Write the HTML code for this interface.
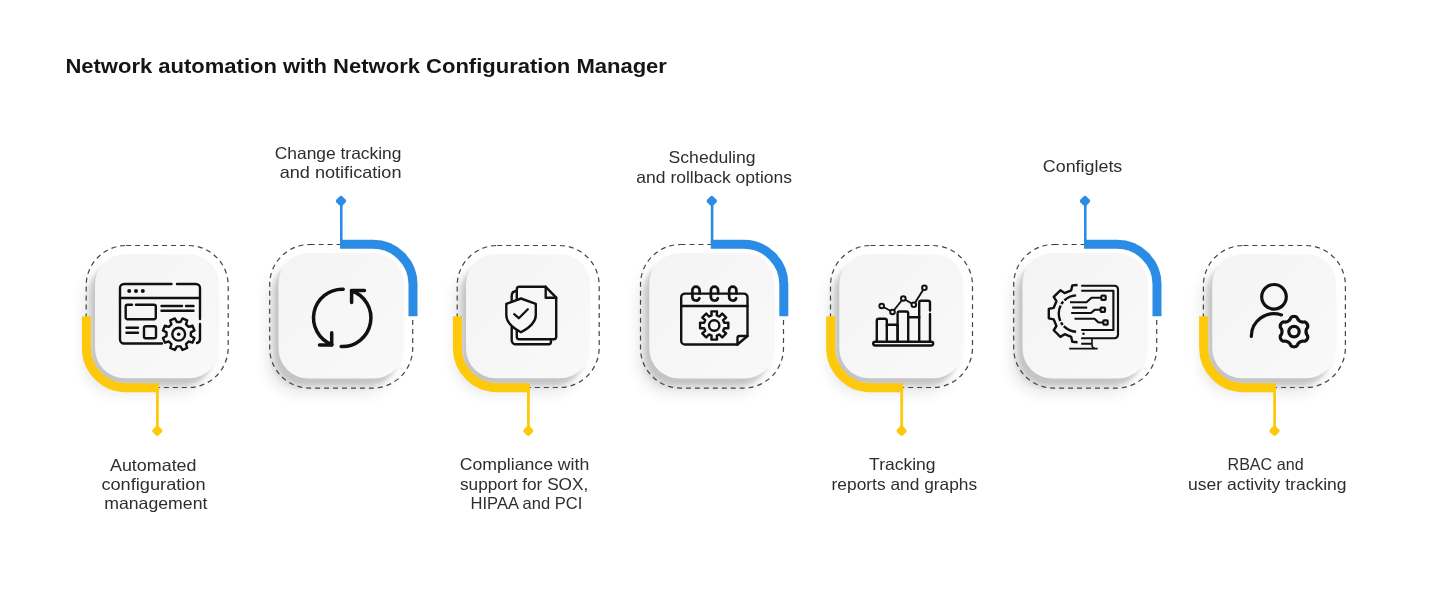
<!DOCTYPE html>
<html><head><meta charset="utf-8"><title>Network automation</title>
<style>
html,body{margin:0;padding:0;background:#fff;}
body{width:1429px;height:600px;overflow:hidden;font-family:"Liberation Sans",sans-serif;}
svg{display:block;}
text{font-family:"Liberation Sans",sans-serif;}
</style></head><body>
<svg width="1429" height="600" viewBox="0 0 1429 600">
<defs>
<filter id="sh1" x="-40%" y="-40%" width="180%" height="180%"><feGaussianBlur stdDeviation="1.4"/></filter>
<filter id="sh3" x="-40%" y="-40%" width="180%" height="180%"><feGaussianBlur stdDeviation="2.2"/></filter>
<filter id="sh2" x="-50%" y="-50%" width="200%" height="200%"><feGaussianBlur stdDeviation="7.5"/></filter>
<linearGradient id="cg" x1="0" y1="0" x2="1" y2="1"><stop offset="0" stop-color="#f4f4f4"/><stop offset="1" stop-color="#f9f9f9"/></linearGradient>
</defs>
<rect width="1429" height="600" fill="#fff"/>

<text x="65.4" y="73" font-size="20" font-weight="700" fill="#151515" style="opacity:0.999" textLength="601.5" lengthAdjust="spacingAndGlyphs">Network automation with Network Configuration Manager</text>
<g transform="translate(86.2,245.5)">
<rect x="-1.1999999999999993" y="22.8" width="124.0" height="124.0" rx="30.0" fill="#000" opacity="0.10" filter="url(#sh2)"/>
<rect x="1.3000000000000007" y="18.3" width="124.0" height="124.0" rx="30.0" fill="#000" opacity="0.07" filter="url(#sh3)"/>
<rect x="5.300000000000001" y="14.3" width="124.0" height="124.0" rx="30.0" fill="#000" opacity="0.065" filter="url(#sh1)"/>
<rect x="8.8" y="8.8" width="124.0" height="124.0" rx="30.0" fill="url(#cg)"/>
<rect x="0" y="0" width="142.0" height="142.0" rx="40.0" fill="none" stroke="#444" stroke-width="1.2" stroke-dasharray="5 3.96"/>
<path d="M0.2,70.8 V102.0 A40.0,40.0 0 0 0 40.0,142.3 H72.6" fill="none" stroke="#FEC90B" stroke-width="9"/>
<rect x="69.8" y="142.0" width="2.8" height="43" fill="#FEC90B"/>
<rect x="-4.2" y="-4.2" width="8.4" height="8.4" rx="2" transform="translate(71.1,185.3) rotate(45)" fill="#FEC90B"/>
</g>
<g transform="translate(269.7,244.5)">
<rect x="-1.1999999999999993" y="22.8" width="125.2" height="125.2" rx="30.0" fill="#000" opacity="0.10" filter="url(#sh2)"/>
<rect x="1.3000000000000007" y="18.3" width="125.2" height="125.2" rx="30.0" fill="#000" opacity="0.07" filter="url(#sh3)"/>
<rect x="5.300000000000001" y="14.3" width="125.2" height="125.2" rx="30.0" fill="#000" opacity="0.065" filter="url(#sh1)"/>
<rect x="8.8" y="8.8" width="125.2" height="125.2" rx="30.0" fill="url(#cg)"/>
<rect x="0" y="0" width="143.0" height="143.6" rx="40.0" fill="none" stroke="#444" stroke-width="1.2" stroke-dasharray="5 3.96"/>
<path d="M70.3,-0.2 H103.0 A40.0,40.0 0 0 1 143.3,40.0 V71.7" fill="none" stroke="#2A8CE4" stroke-width="9"/>
<rect x="70.3" y="-43" width="2.6" height="43" fill="#2A8CE4"/>
<rect x="-4.2" y="-4.2" width="8.4" height="8.4" rx="2" transform="translate(71.3,-43.5) rotate(45)" fill="#2A8CE4"/>
</g>
<g transform="translate(457.2,245.5)">
<rect x="-1.1999999999999993" y="22.8" width="124.0" height="124.0" rx="30.0" fill="#000" opacity="0.10" filter="url(#sh2)"/>
<rect x="1.3000000000000007" y="18.3" width="124.0" height="124.0" rx="30.0" fill="#000" opacity="0.07" filter="url(#sh3)"/>
<rect x="5.300000000000001" y="14.3" width="124.0" height="124.0" rx="30.0" fill="#000" opacity="0.065" filter="url(#sh1)"/>
<rect x="8.8" y="8.8" width="124.0" height="124.0" rx="30.0" fill="url(#cg)"/>
<rect x="0" y="0" width="142.0" height="142.0" rx="40.0" fill="none" stroke="#444" stroke-width="1.2" stroke-dasharray="5 3.96"/>
<path d="M0.2,70.8 V102.0 A40.0,40.0 0 0 0 40.0,142.3 H72.6" fill="none" stroke="#FEC90B" stroke-width="9"/>
<rect x="69.8" y="142.0" width="2.8" height="43" fill="#FEC90B"/>
<rect x="-4.2" y="-4.2" width="8.4" height="8.4" rx="2" transform="translate(71.1,185.3) rotate(45)" fill="#FEC90B"/>
</g>
<g transform="translate(640.5,244.5)">
<rect x="-1.1999999999999993" y="22.8" width="125.2" height="125.2" rx="30.0" fill="#000" opacity="0.10" filter="url(#sh2)"/>
<rect x="1.3000000000000007" y="18.3" width="125.2" height="125.2" rx="30.0" fill="#000" opacity="0.07" filter="url(#sh3)"/>
<rect x="5.300000000000001" y="14.3" width="125.2" height="125.2" rx="30.0" fill="#000" opacity="0.065" filter="url(#sh1)"/>
<rect x="8.8" y="8.8" width="125.2" height="125.2" rx="30.0" fill="url(#cg)"/>
<rect x="0" y="0" width="143.0" height="143.6" rx="40.0" fill="none" stroke="#444" stroke-width="1.2" stroke-dasharray="5 3.96"/>
<path d="M70.3,-0.2 H103.0 A40.0,40.0 0 0 1 143.3,40.0 V71.7" fill="none" stroke="#2A8CE4" stroke-width="9"/>
<rect x="70.3" y="-43" width="2.6" height="43" fill="#2A8CE4"/>
<rect x="-4.2" y="-4.2" width="8.4" height="8.4" rx="2" transform="translate(71.3,-43.5) rotate(45)" fill="#2A8CE4"/>
</g>
<g transform="translate(830.5,245.5)">
<rect x="-1.1999999999999993" y="22.8" width="124.0" height="124.0" rx="30.0" fill="#000" opacity="0.10" filter="url(#sh2)"/>
<rect x="1.3000000000000007" y="18.3" width="124.0" height="124.0" rx="30.0" fill="#000" opacity="0.07" filter="url(#sh3)"/>
<rect x="5.300000000000001" y="14.3" width="124.0" height="124.0" rx="30.0" fill="#000" opacity="0.065" filter="url(#sh1)"/>
<rect x="8.8" y="8.8" width="124.0" height="124.0" rx="30.0" fill="url(#cg)"/>
<rect x="0" y="0" width="142.0" height="142.0" rx="40.0" fill="none" stroke="#444" stroke-width="1.2" stroke-dasharray="5 3.96"/>
<path d="M0.2,70.8 V102.0 A40.0,40.0 0 0 0 40.0,142.3 H72.6" fill="none" stroke="#FEC90B" stroke-width="9"/>
<rect x="69.8" y="142.0" width="2.8" height="43" fill="#FEC90B"/>
<rect x="-4.2" y="-4.2" width="8.4" height="8.4" rx="2" transform="translate(71.1,185.3) rotate(45)" fill="#FEC90B"/>
</g>
<g transform="translate(1013.7,244.5)">
<rect x="-1.1999999999999993" y="22.8" width="125.2" height="125.2" rx="30.0" fill="#000" opacity="0.10" filter="url(#sh2)"/>
<rect x="1.3000000000000007" y="18.3" width="125.2" height="125.2" rx="30.0" fill="#000" opacity="0.07" filter="url(#sh3)"/>
<rect x="5.300000000000001" y="14.3" width="125.2" height="125.2" rx="30.0" fill="#000" opacity="0.065" filter="url(#sh1)"/>
<rect x="8.8" y="8.8" width="125.2" height="125.2" rx="30.0" fill="url(#cg)"/>
<rect x="0" y="0" width="143.0" height="143.6" rx="40.0" fill="none" stroke="#444" stroke-width="1.2" stroke-dasharray="5 3.96"/>
<path d="M70.3,-0.2 H103.0 A40.0,40.0 0 0 1 143.3,40.0 V71.7" fill="none" stroke="#2A8CE4" stroke-width="9"/>
<rect x="70.3" y="-43" width="2.6" height="43" fill="#2A8CE4"/>
<rect x="-4.2" y="-4.2" width="8.4" height="8.4" rx="2" transform="translate(71.3,-43.5) rotate(45)" fill="#2A8CE4"/>
</g>
<g transform="translate(1203.4,245.5)">
<rect x="-1.1999999999999993" y="22.8" width="124.0" height="124.0" rx="30.0" fill="#000" opacity="0.10" filter="url(#sh2)"/>
<rect x="1.3000000000000007" y="18.3" width="124.0" height="124.0" rx="30.0" fill="#000" opacity="0.07" filter="url(#sh3)"/>
<rect x="5.300000000000001" y="14.3" width="124.0" height="124.0" rx="30.0" fill="#000" opacity="0.065" filter="url(#sh1)"/>
<rect x="8.8" y="8.8" width="124.0" height="124.0" rx="30.0" fill="url(#cg)"/>
<rect x="0" y="0" width="142.0" height="142.0" rx="40.0" fill="none" stroke="#444" stroke-width="1.2" stroke-dasharray="5 3.96"/>
<path d="M0.2,70.8 V102.0 A40.0,40.0 0 0 0 40.0,142.3 H72.6" fill="none" stroke="#FEC90B" stroke-width="9"/>
<rect x="69.8" y="142.0" width="2.8" height="43" fill="#FEC90B"/>
<rect x="-4.2" y="-4.2" width="8.4" height="8.4" rx="2" transform="translate(71.1,185.3) rotate(45)" fill="#FEC90B"/>
</g>
<g fill="none" stroke="#111" stroke-width="2.4" stroke-linecap="round" stroke-linejoin="round">
<path d="M171.5,284 H124 a4,4 0 0 0 -4,4 V339.5 a4,4 0 0 0 4,4 H162"/>
<path d="M177,284 H196 a4,4 0 0 1 4,4 V319"/>
<path d="M200,324 V339 a4,4 0 0 1 -3,4"/>
<path d="M120,298 H200"/>
<path d="M132,304.8 H127.5 a1.8,1.8 0 0 0 -1.8,1.8 V317.4 a1.8,1.8 0 0 0 1.8,1.8 H154 a1.8,1.8 0 0 0 1.8,-1.8 V306.6 a1.8,1.8 0 0 0 -1.8,-1.8 H136"/>
<path d="M161.5,306 H182 M186,306 H193.5 M161.5,310.8 H193.5"/>
<path d="M126.5,327.7 H138 M126.5,332.7 H138"/>
<rect x="144" y="326.3" width="12" height="12" rx="1.8"/>
</g>
<g fill="#111"><circle cx="129.2" cy="291" r="2"/><circle cx="136" cy="291" r="2"/><circle cx="142.8" cy="291" r="2"/></g>
<path d="M190.86,336.03 L194.45,337.98 L192.51,342.66 L188.59,341.51 L186.01,344.09 L187.16,348.01 L182.48,349.95 L180.53,346.36 L176.87,346.36 L174.92,349.95 L170.24,348.01 L171.39,344.09 L168.81,341.51 L164.89,342.66 L162.95,337.98 L166.54,336.03 L166.54,332.37 L162.95,330.42 L164.89,325.74 L168.81,326.89 L171.39,324.31 L170.24,320.39 L174.92,318.45 L176.87,322.04 L180.53,322.04 L182.48,318.45 L187.16,320.39 L186.01,324.31 L188.59,326.89 L192.51,325.74 L194.45,330.42 L190.86,332.37Z" fill="#f7f7f7" stroke="#111" stroke-width="2.4" stroke-linejoin="round"/>
<circle cx="178.7" cy="334.2" r="6.4" fill="none" stroke="#111" stroke-width="2.4"/>
<circle cx="178.7" cy="334.2" r="1.8" fill="#111"/>
<g fill="none" stroke="#111" stroke-width="3.5" stroke-linecap="round" stroke-linejoin="round">
<path d="M343.20,289.22 A28.7,28.7 0 0 0 331.91,344.69"/>
<path d="M319.5,345 H331.7 V332.8"/>
<path d="M351.54,290.76 A28.7,28.7 0 0 1 341.20,346.58"/>
<path d="M364.5,290.6 H351.6 V302.6"/>
</g>
<g fill="none" stroke="#111" stroke-width="2.4" stroke-linecap="round" stroke-linejoin="round">
<path d="M516.8,300 V289.3 a2.5,2.5 0 0 1 2.5,-2.5 H545.7 L556.2,297.7 V337 a2.3,2.3 0 0 1 -2.3,2.3 H519.3 a2.5,2.5 0 0 1 -2.5,-2.5 V330.5"/>
<path d="M545.7,286.8 V297.7 H556.2"/>
<path d="M516.8,291 Q511.7,291 511.7,296 V301.5 M511.7,327 V340.2 a4,4 0 0 0 4,4 H548.5 a2.5,2.5 0 0 0 2.5,-2.5 V339.5"/>
<path d="M521,298.5 L535.8,303.8 V315 Q535.8,324.5 521,332.3 Q506.3,324.5 506.3,315 V303.8 Z" fill="#f7f7f7"/>
<path d="M514.2,314.2 L518.8,318.2 L527.8,309.3" stroke-width="2.3"/>
</g>
<g fill="none" stroke="#111" stroke-width="2.4" stroke-linecap="round" stroke-linejoin="round">
<path d="M685,293.6 a3.8,3.8 0 0 0 -3.8,3.8 V340.7 a3.8,3.8 0 0 0 3.8,3.8 H737.5 L747.5,336 V297.4 a3.8,3.8 0 0 0 -3.8,-3.8 Z"/>
<path d="M737.5,344.5 V338 a2,2 0 0 1 2,-2 H747.5"/>
<path d="M681.2,306 H747.5"/>
<path d="M699.6,293.5 V290.2 a3.6,3.6 0 0 0 -7.2,0 V297 a3.6,3.6 0 0 0 6.98,1.23" stroke-width="2.7"/>
<path d="M718.1,293.5 V290.2 a3.6,3.6 0 0 0 -7.2,0 V297 a3.6,3.6 0 0 0 6.98,1.23" stroke-width="2.7"/>
<path d="M736.4,293.5 V290.2 a3.6,3.6 0 0 0 -7.2,0 V297 a3.6,3.6 0 0 0 6.98,1.23" stroke-width="2.7"/>
</g>
<path d="M724.27,322.91 L728.32,322.69 L728.32,328.31 L724.27,328.09 L723.15,330.79 L726.17,333.50 L722.20,337.47 L719.49,334.45 L716.79,335.57 L717.01,339.62 L711.39,339.62 L711.61,335.57 L708.91,334.45 L706.20,337.47 L702.23,333.50 L705.25,330.79 L704.13,328.09 L700.08,328.31 L700.08,322.69 L704.13,322.91 L705.25,320.21 L702.23,317.50 L706.20,313.53 L708.91,316.55 L711.61,315.43 L711.39,311.38 L717.01,311.38 L716.79,315.43 L719.49,316.55 L722.20,313.53 L726.17,317.50 L723.15,320.21Z" fill="none" stroke="#111" stroke-width="2.4" stroke-linejoin="round"/>
<circle cx="714.2" cy="325.5" r="5.2" fill="none" stroke="#111" stroke-width="2.4"/>
<g fill="none" stroke="#111" stroke-width="2.4" stroke-linecap="round" stroke-linejoin="round">
<rect x="873.2" y="341.7" width="60" height="3.8" rx="1.9"/>
<path d="M876.8,341.7 V320.7 a2,2 0 0 1 2,-2 H884.8 a2,2 0 0 1 2,2 V341.7"/>
<path d="M886.8,324.7 H897.6 V341.7"/>
<path d="M897.6,341.7 V313.5 a2,2 0 0 1 2,-2 H906.2 a2,2 0 0 1 2,2 V341.7"/>
<path d="M908.2,317.2 H919.2"/>
<path d="M919.2,341.7 V302.7 a2,2 0 0 1 2,-2 H928 a2,2 0 0 1 2,2 V310.5 M930,314 V341.7"/>
<path d="M881.7,306 L892.5,312 L903.3,298.5 L913.8,304.8 L924.4,287.7" stroke-width="1.9"/>
<circle cx="881.7" cy="306" r="2.3" fill="#f7f7f7" stroke-width="2"/>
<circle cx="892.5" cy="312" r="2.3" fill="#f7f7f7" stroke-width="2"/>
<circle cx="903.3" cy="298.5" r="2.3" fill="#f7f7f7" stroke-width="2"/>
<circle cx="913.8" cy="304.8" r="2.3" fill="#f7f7f7" stroke-width="2"/>
<circle cx="924.4" cy="287.7" r="2.3" fill="#f7f7f7" stroke-width="2"/>
</g>
<g fill="none" stroke="#111" stroke-width="2.15" stroke-linecap="butt" stroke-linejoin="round">
<path d="M1081.2,285.7 H1114.5 a3.5,3.5 0 0 1 3.5,3.5 V334.7 a3.5,3.5 0 0 1 -3.5,3.5 H1081.2"/>
<path d="M1081.2,290.7 H1113.4 V330 H1081.2"/>
<path d="M1092,338.2 V345.5 Q1092.3,348 1095,348.5" stroke-width="1.6"/>
<path d="M1081.2,343.8 H1092 M1069.2,348.6 H1097.7" stroke-width="1.9"/>
<path d="M1070,302.2 H1086.5 L1091.5,297.7 H1100.7"/>
<path d="M1072.2,307.6 H1087.2"/>
<path d="M1071.2,313 H1091 L1095,309.7 H1100"/>
<path d="M1074.5,318.7 H1094.5 L1098.5,322.5 H1103"/>
<rect x="1101.3" y="295.6" width="4.4" height="4.2" rx="0.8"/>
<rect x="1100.6" y="307.6" width="4.4" height="4.2" rx="0.8"/>
<rect x="1103.3" y="320.4" width="4.4" height="4.2" rx="0.8"/>
</g>
<circle cx="1083.5" cy="333.8" r="1.3" fill="#111"/>
<path d="M1077.57,285.01 L1072.30,285.39 L1071.21,290.31 L1064.62,293.04 L1060.37,290.33 L1053.73,296.97 L1056.44,301.22 L1053.71,307.81 L1048.79,308.90 L1048.79,318.30 L1053.71,319.39 L1056.44,325.98 L1053.73,330.23 L1060.37,336.87 L1064.62,334.16 L1071.21,336.89 L1072.30,341.81 L1077.57,342.19" fill="none" stroke="#111" stroke-width="2.4" stroke-linejoin="round"/>
<path d="M1076.09,295.42 A18.2,18.2 0 0 0 1076.09,331.78" fill="none" stroke="#111" stroke-width="2.4" stroke-dasharray="13 1.6 3 1.6 16 1.6 3 1.6 30"/>
<g fill="none" stroke="#111" stroke-width="3.2" stroke-linecap="round" stroke-linejoin="round">
<circle cx="1274" cy="296.8" r="12.3"/>
<path d="M1251.3,336.5 A22.8,22.8 0 0 1 1281.5,314.9"/>
<path d="M1306.00,331.60 L1306.03,332.23 L1306.12,332.87 L1306.28,333.55 L1306.53,334.26 L1307.14,335.12 L1307.69,336.05 L1307.78,336.89 L1307.71,337.70 L1307.50,338.48 L1307.16,339.20 L1306.71,339.85 L1306.14,340.42 L1305.47,340.89 L1304.69,341.23 L1303.62,341.22 L1302.57,341.12 L1301.83,341.27 L1301.17,341.46 L1300.56,341.70 L1300.00,341.99 L1299.47,342.33 L1298.96,342.74 L1298.46,343.21 L1297.96,343.78 L1297.52,344.74 L1296.99,345.68 L1296.31,346.18 L1295.57,346.53 L1294.79,346.73 L1294.00,346.80 L1293.21,346.73 L1292.43,346.53 L1291.69,346.18 L1291.01,345.68 L1290.48,344.74 L1290.04,343.78 L1289.54,343.21 L1289.04,342.74 L1288.53,342.33 L1288.00,341.99 L1287.44,341.70 L1286.83,341.46 L1286.17,341.27 L1285.43,341.12 L1284.38,341.22 L1283.31,341.23 L1282.53,340.89 L1281.86,340.42 L1281.29,339.85 L1280.84,339.20 L1280.50,338.48 L1280.29,337.70 L1280.22,336.89 L1280.31,336.05 L1280.86,335.12 L1281.47,334.26 L1281.72,333.55 L1281.88,332.87 L1281.97,332.23 L1282.00,331.60 L1281.97,330.97 L1281.88,330.33 L1281.72,329.65 L1281.47,328.94 L1280.86,328.08 L1280.31,327.15 L1280.22,326.31 L1280.29,325.50 L1280.50,324.72 L1280.84,324.00 L1281.29,323.35 L1281.86,322.78 L1282.53,322.31 L1283.31,321.97 L1284.38,321.98 L1285.43,322.08 L1286.17,321.93 L1286.83,321.74 L1287.44,321.50 L1288.00,321.21 L1288.53,320.87 L1289.04,320.46 L1289.54,319.99 L1290.04,319.42 L1290.48,318.46 L1291.01,317.52 L1291.69,317.02 L1292.43,316.67 L1293.21,316.47 L1294.00,316.40 L1294.79,316.47 L1295.57,316.67 L1296.31,317.02 L1296.99,317.52 L1297.52,318.46 L1297.96,319.42 L1298.46,319.99 L1298.96,320.46 L1299.47,320.87 L1300.00,321.21 L1300.56,321.50 L1301.17,321.74 L1301.83,321.93 L1302.57,322.08 L1303.62,321.98 L1304.69,321.97 L1305.47,322.31 L1306.14,322.78 L1306.71,323.35 L1307.16,324.00 L1307.50,324.72 L1307.71,325.50 L1307.78,326.31 L1307.69,327.15 L1307.14,328.08 L1306.53,328.94 L1306.28,329.65 L1306.12,330.33 L1306.03,330.97Z"/>
<circle cx="1294" cy="331.6" r="5.2"/>
</g>
<g font-size="16.5" fill="#2e2e2e" style="opacity:0.999">
<text x="110.0" y="470.6" textLength="86.5" lengthAdjust="spacingAndGlyphs">Automated</text>
<text x="101.4" y="489.8" textLength="104.2" lengthAdjust="spacingAndGlyphs">configuration</text>
<text x="104.2" y="509.0" textLength="103.2" lengthAdjust="spacingAndGlyphs">management</text>
<text x="274.7" y="159.4" textLength="126.8" lengthAdjust="spacingAndGlyphs">Change tracking</text>
<text x="279.7" y="178.4" textLength="121.8" lengthAdjust="spacingAndGlyphs">and notification</text>
<text x="459.7" y="470.3" textLength="129.6" lengthAdjust="spacingAndGlyphs">Compliance with</text>
<text x="460.0" y="489.7" textLength="128.3" lengthAdjust="spacingAndGlyphs">support for SOX,</text>
<text x="470.6" y="508.7" textLength="111.7" lengthAdjust="spacingAndGlyphs">HIPAA and PCI</text>
<text x="668.6" y="163.3" textLength="87.0" lengthAdjust="spacingAndGlyphs">Scheduling</text>
<text x="636.3" y="182.6" textLength="155.8" lengthAdjust="spacingAndGlyphs">and rollback options</text>
<text x="869.1" y="470.3" textLength="66.5" lengthAdjust="spacingAndGlyphs">Tracking</text>
<text x="831.6" y="489.5" textLength="145.6" lengthAdjust="spacingAndGlyphs">reports and graphs</text>
<text x="1042.8" y="172.3" textLength="79.5" lengthAdjust="spacingAndGlyphs">Configlets</text>
<text x="1227.5" y="470.3" textLength="76.1" lengthAdjust="spacingAndGlyphs">RBAC and</text>
<text x="1188.0" y="489.5" textLength="158.5" lengthAdjust="spacingAndGlyphs">user activity tracking</text>
</g>
</svg></body></html>
